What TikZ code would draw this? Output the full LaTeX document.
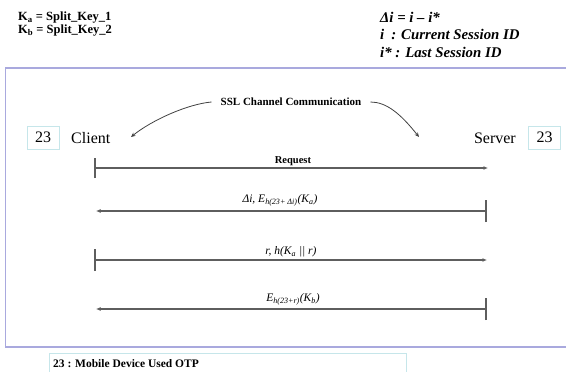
\documentclass[tikz,border=0pt]{standalone}
\usepackage{fontspec}
\setmainfont{Liberation Serif}
\usetikzlibrary{arrows.meta}
\definecolor{framecol}{HTML}{A9A9DE}
\definecolor{boxcol}{HTML}{C6E6EA}
\definecolor{msgcol}{HTML}{5E5E5E}
\begin{document}
\begin{tikzpicture}[x=1pt,y=-1pt,
  txt/.style={inner sep=0pt,anchor=west},
  idbox/.style={draw=boxcol,line width=0.8pt,minimum width=32pt,minimum height=23pt,inner sep=0pt,font=\fontsize{16}{16}\selectfont},
  party/.style={inner sep=0pt,font=\fontsize{16}{16}\selectfont},
  msg/.style={draw=msgcol,line width=1.3pt,-{Latex[length=4.5pt,width=4pt]}},
  tick/.style={draw=msgcol,line width=1.1pt},
  msglabel/.style={inner sep=0pt,font=\fontsize{11.5}{12}\selectfont\itshape},
  curv/.style={draw=black!75,line width=0.8pt,-{Stealth[length=4.5pt,width=4pt]}}]
\useasboundingbox (0,0) rectangle (566,372);

% key legend, top left
\node[txt,font=\fontsize{12.5}{13}\selectfont\bfseries] (ka) at (18,18) {K\textsubscript{a} = Split\_Key\_1};
\node[txt,font=\fontsize{12.5}{13}\selectfont\bfseries] (kb) at (18,31) {K\textsubscript{b} = Split\_Key\_2};

% session legend, top right
\node[txt,font=\fontsize{14.8}{15}\selectfont\bfseries\itshape] (di) at (380,17) {Δi = i – i*};
\node[txt,font=\fontsize{14.8}{15}\selectfont\bfseries\itshape] (ci) at (380,34) {i\hspace{7pt}: Current Session ID};
\node[txt,font=\fontsize{14.8}{15}\selectfont\bfseries\itshape] (li) at (380,52) {i* : Last Session ID};

% outer frame
\draw[framecol,line width=1.2pt] (575,68) -- (5.5,68) -- (5.5,347) -- (575,347);

% parties
\node[idbox] (cbox) at (43,137.5) {23};
\node[party,anchor=west] (client) at (71,138) {Client};
\node[party,anchor=east] (server) at (516,138) {Server};
\node[idbox] (sbox) at (544.5,137.5) {23};

% secure channel label and arcs
\node[inner sep=0pt,font=\fontsize{11}{12}\selectfont\bfseries] (ssl) at (291,102) {SSL Channel Communication};
\coordinate (cl) at (131,137);
\coordinate (sr) at (419,137);
\draw[curv] ([xshift=-9pt]ssl.west) .. controls (188,104) and (152,120) .. (cl);
\draw[curv] ([xshift=9pt]ssl.east) .. controls (386,102) and (400,113) .. (sr);

% lifeline end points
\coordinate (c1) at (95,168); \coordinate (s1) at (488,168);
\coordinate (s2) at (486,211); \coordinate (c2) at (96,211);
\coordinate (c3) at (95,260); \coordinate (s3) at (487,260);
\coordinate (s4) at (486,309); \coordinate (c4) at (96,309);

% messages
\draw[tick] ([yshift=-10pt]c1) -- ([yshift=10pt]c1);
\draw[msg] (c1) -- (s1);
\node[inner sep=0pt,font=\fontsize{10.5}{11}\selectfont\bfseries] (m1) at (293,161) {Request};

\draw[tick] ([yshift=-11pt]s2) -- ([yshift=11pt]s2);
\draw[msg] (s2) -- (c2);
\node[msglabel] (m2) at (280,200) {Δi, E\textsubscript{h(23+ Δi)}(K\textsubscript{a})};

\draw[tick] ([yshift=-11pt]c3) -- ([yshift=11pt]c3);
\draw[msg] (c3) -- (s3);
\node[msglabel] (m3) at (291,252) {r, h(K\textsubscript{a} || r)};

\draw[tick] ([yshift=-11pt]s4) -- ([yshift=11pt]s4);
\draw[msg] (s4) -- (c4);
\node[msglabel] (m4) at (293,299) {E\textsubscript{h(23+r)}(K\textsubscript{b})};

% footnote box
\draw[boxcol,line width=0.8pt] (49,380) -- (49,353) -- (406,353) -- (406,380);
\node[txt,font=\fontsize{11.5}{12}\selectfont\bfseries] (note) at (53,364) {23 : Mobile Device Used OTP};
\end{tikzpicture}
\end{document}
